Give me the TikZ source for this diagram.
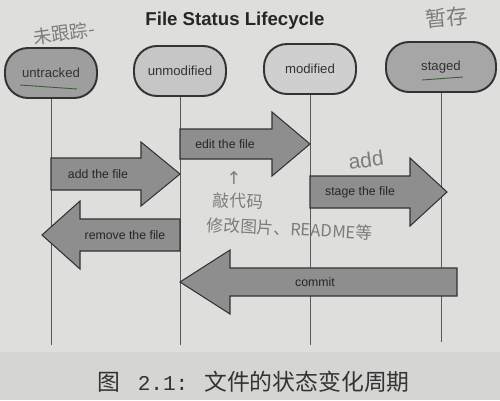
\documentclass[tikz,border=0pt]{standalone}
\usepackage{fontspec}
\setmainfont{Liberation Sans}
\newfontfamily\cjk{Noto Sans CJK SC}
\newfontfamily\monofam{Liberation Mono}
\newfontfamily\symfam{DejaVu Sans}
\definecolor{bgpaper}{HTML}{DEDEDC}
\definecolor{bgdark}{HTML}{D5D5D3}
\definecolor{inkdark}{HTML}{333333}
\definecolor{arrowfill}{HTML}{8E8E8E}
\definecolor{boxdark}{HTML}{9E9E9E}
\definecolor{boxlight}{HTML}{C6C6C6}
\definecolor{boxlighter}{HTML}{CFCFCF}
\definecolor{boxstaged}{HTML}{A6A6A6}
\definecolor{pencil}{HTML}{7C7C7C}
\tikzset{
  statebox/.style={draw=inkdark, line width=1.1pt, rounded corners=23*0.02cm,
    minimum width=1.84cm, minimum height=1cm, inner sep=0pt,
    font=\fontsize{7.5}{9}\selectfont, text=inkdark},
  lifeline/.style={draw=black!65, line width=0.5pt},
  blockarrow/.style={fill=arrowfill, draw=inkdark, line width=0.6pt, line join=miter},
  arrowlabel/.style={font=\fontsize{7}{8}\selectfont, text=black!85, inner sep=1pt},
  handnote/.style={text=pencil, inner sep=0pt},
  pencilline/.style={draw=pencil!80!green!60!black, line width=0.5pt}
}
\begin{document}
\begin{tikzpicture}[x=0.02cm,y=-0.02cm]
\useasboundingbox (0,0) rectangle (500,400);
\fill[bgpaper] (0,0) rectangle (500,400);
\fill[bgdark] (0,352) rectangle (500,400);

% title
\node[font=\bfseries\fontsize{10.6}{12}\selectfont, text=black!85, anchor=base] (title) at (235,25) {File Status Lifecycle};

% state boxes
\node[statebox, fill=boxdark] (untracked) at (51,73) {untracked};
\node[statebox, fill=boxlight] (unmodified) at (180,71) {unmodified};
\node[statebox, fill=boxlighter] (modified) at (310,69) {modified};
\node[statebox, fill=boxstaged, minimum width=2.2cm] (staged) at (441,67) {staged};

% lifelines
\coordinate (uEnd) at (51,345);
\coordinate (mEnd) at (180,345);
\coordinate (dEnd) at (310,345);
\coordinate (sEnd) at (441,342);
\draw[lifeline] (untracked.south) -- (uEnd);
\draw[lifeline] (unmodified.south) -- (mEnd);
\draw[lifeline] (modified.south) -- (dEnd);
\draw[lifeline] (staged.south) -- (sEnd);

% add the file (right)
\draw[blockarrow] (51,158) -- (141,158) -- (141,142) -- (180,174) -- (141,206) -- (141,190) -- (51,190) -- cycle;
\node[arrowlabel] (addlbl) at (98,174) {add the file};

% edit the file (right)
\draw[blockarrow] (180,129) -- (272,129) -- (272,112) -- (310,144) -- (272,176) -- (272,159) -- (180,159) -- cycle;
\node[arrowlabel] (editlbl) at (225,144) {edit the file};

% stage the file (right)
\draw[blockarrow] (310,176) -- (410,176) -- (410,158) -- (447,192) -- (410,226) -- (410,208) -- (310,208) -- cycle;
\node[arrowlabel] (stagelbl) at (360,192) {stage the file};

% remove the file (left)
\draw[blockarrow] (180,219) -- (80,219) -- (80,201) -- (42,235) -- (80,269) -- (80,251) -- (180,251) -- cycle;
\node[arrowlabel] (removelbl) at (125,235) {remove the file};

% commit (left)
\draw[blockarrow] (457,268) -- (230,268) -- (230,250) -- (180,282) -- (230,314) -- (230,296) -- (457,296) -- cycle;
\node[arrowlabel] (commitlbl) at (315,282) {commit};

% handwritten notes
\node[handnote, font=\cjk\fontsize{10.5}{12}\selectfont, rotate=8] (n1) at (64,33) {未跟踪-};
\node[handnote, font=\cjk\fontsize{12}{13}\selectfont, rotate=6] (n2) at (447,17) {暂存};
\node[handnote, font=\fontsize{12}{13}\selectfont, rotate=8] (n3) at (366,160) {add};
\node[handnote, font=\symfam\fontsize{10}{11}\selectfont] (n4) at (234,178) {↑};
\node[handnote, font=\cjk\fontsize{9.5}{11}\selectfont, rotate=-3] (n5) at (238,201) {敲代码};
\node[handnote, font=\cjk\fontsize{9.5}{11}\selectfont, rotate=-3] (n6) at (290,229) {修改图片、README等};
\coordinate (ul1a) at (20,85); \coordinate (ul1b) at (77,89);
\draw[pencilline] (ul1a) -- (ul1b);
\coordinate (ul2a) at (422,80); \coordinate (ul2b) at (463,77);
\draw[pencilline] (ul2a) -- (ul2b);

% caption
\node[font=\cjk\fontsize{13}{15}\selectfont, text=black!80, anchor=base west, inner sep=0pt] (cap) at (97,390) {图\hspace{10pt}{\monofam\fontsize{12}{14}\selectfont 2.1:}\hspace{9pt}文件的状态变化周期};
\end{tikzpicture}
\end{document}
